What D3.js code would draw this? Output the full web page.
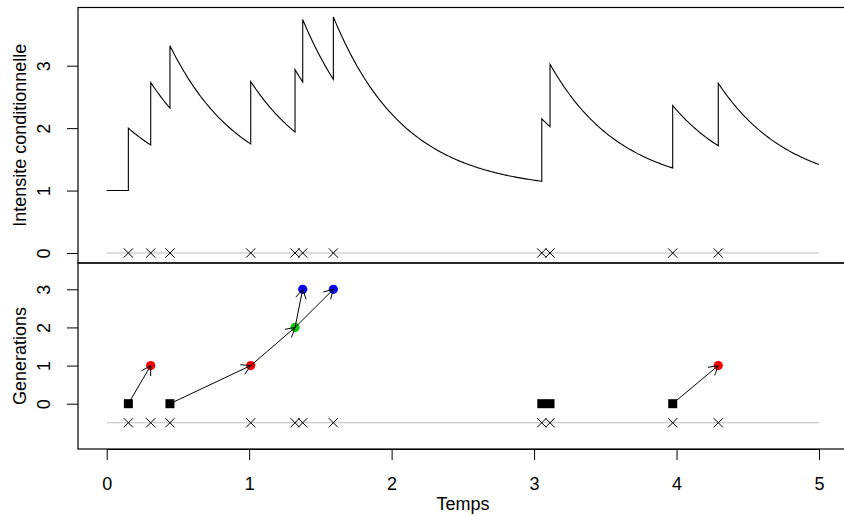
<!DOCTYPE html>
<html>
<head>
<meta charset="utf-8">
<script src="https://cdn.jsdelivr.net/npm/d3@7"></script>
<style>
  body { margin: 0; background: #fff; }
  text { font-family: "Liberation Sans", Arial, Helvetica, sans-serif; }
</style>
</head>
<body>
<svg id="chart" width="844" height="516"></svg>
<script>

// event times
var events = [0.152, 0.309, 0.444, 1.011, 1.322, 1.376, 1.591, 3.054, 3.112, 3.973, 4.293];
// generation of each event (0 = immigrant)
var generations = [0, 1, 0, 1, 2, 3, 3, 0, 0, 0, 1];
// index of the parent event (-1 = none)
var parents = [-1, 0, -1, 2, 3, 4, 4, -1, -1, -1, 9];

var xTicks = [0, 1, 2, 3, 4, 5];
var yTicksTop = [0, 1, 2, 3];
var yTicksBot = [0, 1, 2, 3];

// hawkes parameters: baseline, jump, decay
var mu = 1, alpha = 1, beta = 2;
var tMax = 5;

var genColors = ["#000000", "#FF0000", "#00CD00", "#0000FF"];

var svg = d3.select("#chart");

var x = d3.scaleLinear().domain([0, 5]).range([106.7, 819]);
var yTop = d3.scaleLinear().domain([0, 3]).range([253, 65.7]);
var yBot = d3.scaleLinear().domain([0, 3]).range([403.7, 289.3]);

var left = 78, right = 848;
var topY = 7.5, midY = 263, botY = 449;
var fs = "18px";

// intensity just after (incl) or before t
function lambda(t, incl) {
    var s = mu;
    events.forEach(function (e) {
        if (e < t || (incl && e === t)) s += alpha * Math.exp(-beta * (t - e));
    });
    return s;
}

var curve = [];
var grid = d3.range(0, tMax + 1e-9, 0.01);
var k = 0;
grid.forEach(function (t) {
    while (k < events.length && events[k] <= t) {
        curve.push([events[k], lambda(events[k], false)]);
        curve.push([events[k], lambda(events[k], true)]);
        k++;
    }
    curve.push([t, lambda(t, true)]);
});

// ---- top panel ----
svg.append("line")
    .attr("x1", x(0)).attr("x2", x(5))
    .attr("y1", yTop(0)).attr("y2", yTop(0))
    .attr("stroke", "#bebebe").attr("stroke-width", 1.2);

svg.append("path")
    .datum(curve)
    .attr("fill", "none")
    .attr("stroke", "#000")
    .attr("stroke-width", 1.1)
    .attr("d", d3.line()
        .x(function (d) { return x(d[0]); })
        .y(function (d) { return yTop(d[1]); }));

function crosses(yPos) {
    svg.append("g").selectAll("path")
        .data(events)
        .enter().append("path")
        .attr("transform", function (d) { return "translate(" + x(d) + "," + yPos + ")"; })
        .attr("d", "M-4.6,-4.6L4.6,4.6M-4.6,4.6L4.6,-4.6")
        .attr("stroke", "#000")
        .attr("stroke-width", 1)
        .attr("fill", "none");
}
crosses(yTop(0));

// ---- bottom panel ----
svg.append("line")
    .attr("x1", x(0)).attr("x2", x(5))
    .attr("y1", yBot(-0.5)).attr("y2", yBot(-0.5))
    .attr("stroke", "#bebebe").attr("stroke-width", 1.2);

crosses(yBot(-0.5));

var pts = events.map(function (t, i) {
    return { t: t, g: generations[i], p: parents[i] };
});

svg.append("g").selectAll("rect")
    .data(pts.filter(function (d) { return d.g === 0; }))
    .enter().append("rect")
    .attr("x", function (d) { return x(d.t) - 4.5; })
    .attr("y", function (d) { return yBot(d.g) - 4.5; })
    .attr("width", 9).attr("height", 9)
    .attr("fill", "#000");

svg.append("g").selectAll("circle")
    .data(pts.filter(function (d) { return d.g > 0; }))
    .enter().append("circle")
    .attr("cx", function (d) { return x(d.t); })
    .attr("cy", function (d) { return yBot(d.g); })
    .attr("r", 4.6)
    .attr("fill", function (d) { return genColors[d.g]; });

// arrows parent -> child, open heads
var headLen = 10.5, headAng = Math.PI / 6;
svg.append("g").selectAll("path")
    .data(pts.filter(function (d) { return d.p >= 0; }))
    .enter().append("path")
    .attr("fill", "none")
    .attr("stroke", "#000")
    .attr("stroke-width", 1)
    .attr("d", function (d) {
        var par = pts[d.p];
        var x0 = x(par.t), y0 = yBot(par.g), x1 = x(d.t), y1 = yBot(d.g);
        var a = Math.atan2(y1 - y0, x1 - x0);
        var ax = x1 - headLen * Math.cos(a - headAng), ay = y1 - headLen * Math.sin(a - headAng);
        var bx = x1 - headLen * Math.cos(a + headAng), by = y1 - headLen * Math.sin(a + headAng);
        return "M" + x0 + "," + y0 + "L" + x1 + "," + y1 +
            "M" + ax + "," + ay + "L" + x1 + "," + y1 + "L" + bx + "," + by;
    });

// ---- boxes ----
svg.append("rect")
    .attr("x", left).attr("y", topY)
    .attr("width", right - left).attr("height", midY - topY)
    .attr("fill", "none").attr("stroke", "#000").attr("stroke-width", 1.2);
svg.append("rect")
    .attr("x", left).attr("y", midY)
    .attr("width", right - left).attr("height", botY - midY)
    .attr("fill", "none").attr("stroke", "#000").attr("stroke-width", 1.2);

// ---- axes ----
function styleY(g) {
    g.select(".domain").remove();
    g.selectAll(".tick line").attr("stroke", "#000");
    g.selectAll(".tick text")
        .attr("x", null).attr("dy", null)
        .attr("text-anchor", "middle")
        .attr("transform", "translate(-28,0) rotate(-90)")
        .attr("fill", "#000")
        .style("font-size", fs);
}

svg.append("g")
    .attr("transform", "translate(" + left + ",0)")
    .call(d3.axisLeft(yTop).tickValues(yTicksTop).tickSize(11).tickFormat(d3.format("d")))
    .call(styleY);

svg.append("g")
    .attr("transform", "translate(" + left + ",0)")
    .call(d3.axisLeft(yBot).tickValues(yTicksBot).tickSize(11).tickFormat(d3.format("d")))
    .call(styleY);

svg.append("g")
    .attr("transform", "translate(0," + botY + ")")
    .call(d3.axisBottom(x).tickValues(xTicks).tickSize(11).tickSizeOuter(0).tickFormat(d3.format("d")))
    .call(function (g) {
        g.select(".domain").attr("stroke", "#000");
        g.selectAll(".tick line").attr("stroke", "#000");
        g.selectAll(".tick text")
            .attr("y", 41).attr("dy", null)
            .attr("fill", "#000")
            .style("font-size", fs);
    });

// ---- titles ----
svg.append("text")
    .attr("transform", "translate(26," + ((topY + midY) / 2) + ") rotate(-90)")
    .attr("text-anchor", "middle")
    .style("font-size", fs)
    .text("Intensite conditionnelle");

svg.append("text")
    .attr("transform", "translate(26," + ((midY + botY) / 2) + ") rotate(-90)")
    .attr("text-anchor", "middle")
    .style("font-size", fs)
    .text("Generations");

svg.append("text")
    .attr("x", (left + right) / 2)
    .attr("y", 510)
    .attr("text-anchor", "middle")
    .style("font-size", fs)
    .text("Temps");

</script>
</body>
</html>
